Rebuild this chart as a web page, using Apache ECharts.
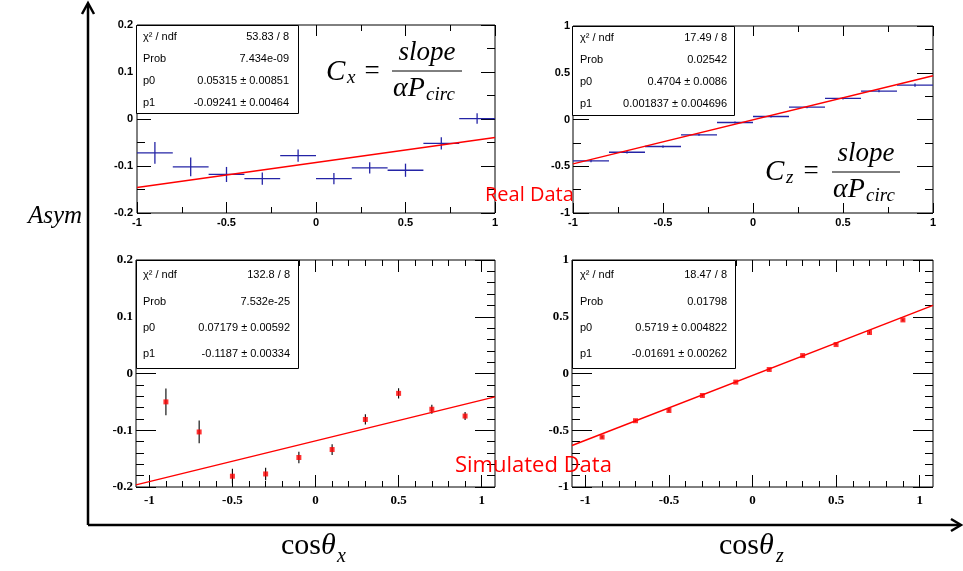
<!DOCTYPE html>
<html><head><meta charset="utf-8">
<script src="https://cdn.jsdelivr.net/npm/echarts@6/dist/echarts.min.js"></script>
<style>html,body{margin:0;padding:0;background:#fff}#c{width:963px;height:571px}</style>
</head><body><div id="c"></div>
<script>
// ---------------- data ----------------
const binCenters = [-0.9, -0.7, -0.5, -0.3, -0.1, 0.1, 0.3, 0.5, 0.7, 0.9];
const binHalfWidth = 0.1;

const realCxAsym = [-0.072, -0.102, -0.118, -0.127, -0.078, -0.127, -0.104, -0.109, -0.052, 0.001];
const realCxErr  = [0.023, 0.020, 0.016, 0.013, 0.013, 0.012, 0.012, 0.014, 0.013, 0.011];
const realCzAsym = [-0.443, -0.350, -0.289, -0.164, -0.032, 0.032, 0.132, 0.225, 0.304, 0.368];
const realCzErr  = [0.014, 0.013, 0.012, 0.011, 0.010, 0.010, 0.011, 0.012, 0.013, 0.018];
const simCxAsym  = [-0.050, -0.103, -0.181, -0.177, -0.148, -0.134, -0.081, -0.035, -0.063, -0.075];
const simCxErr   = [0.0235, 0.020, 0.013, 0.011, 0.010, 0.0094, 0.009, 0.009, 0.008, 0.007];
const simCzAsym  = [-0.560, -0.416, -0.326, -0.194, -0.076, 0.035, 0.158, 0.255, 0.361, 0.472];
const simCzErr   = [0.012, 0.011, 0.010, 0.009, 0.008, 0.008, 0.008, 0.009, 0.010, 0.011];

const realCxFit = [[-1, -0.1456], [1, -0.0393]];
const realCzFit = [[-1, -0.475], [1, 0.468]];
const simCxFit  = [[-1.08, -0.1962], [1.08, -0.0412]];
const simCzFit  = [[-1.08, -0.6346], [1.08, 0.6007]];

const statLabels   = ['\u03c7\u00b2 / ndf', 'Prob', 'p0', 'p1'];
const realCxStats  = ['53.83 / 8', '7.434e-09', '0.05315 \u00b1 0.00851', '-0.09241 \u00b1 0.00464'];
const realCzStats  = ['17.49 / 8', '0.02542', '0.4704 \u00b1 0.0086', '0.001837 \u00b1 0.004696'];
const simCxStats   = ['132.8 / 8', '7.532e-25', '0.07179 \u00b1 0.00592', '-0.1187 \u00b1 0.00334'];
const simCzStats   = ['18.47 / 8', '0.01798', '0.5719 \u00b1 0.004822', '-0.01691 \u00b1 0.00262'];

const xMajorTicks      = [-1, -0.5, 0, 0.5, 1];
const realXMinorTicks  = [-0.75, -0.25, 0.25, 0.75];
const simXMinorTicks   = [-0.9, -0.8, -0.7, -0.6, -0.4, -0.3, -0.2, -0.1, 0.1, 0.2, 0.3, 0.4, 0.6, 0.7, 0.8, 0.9];
const cxYMajorTicks    = [-0.2, -0.1, 0, 0.1, 0.2];
const realCxYMinor     = [-0.15, -0.05, 0.05, 0.15];
const simCxYMinor      = [-0.18, -0.16, -0.14, -0.12, -0.08, -0.06, -0.04, -0.02, 0.02, 0.04, 0.06, 0.08, 0.12, 0.14, 0.16, 0.18];
const czYMajorTicks    = [-1, -0.5, 0, 0.5, 1];
const realCzYMinor     = [-0.75, -0.25, 0.25, 0.75];
const simCzYMinor      = [-0.9, -0.8, -0.7, -0.6, -0.4, -0.3, -0.2, -0.1, 0.1, 0.2, 0.3, 0.4, 0.6, 0.7, 0.8, 0.9];

// ---------------- layout ----------------
const SANS = '"Liberation Sans", Arial, sans-serif';
const SERIF = '"Liberation Serif", "Times New Roman", serif';

const panels = [
  {grid:{left:137, top:25, width:358, height:188}, xr:[-1,1], yr:[-0.2,0.2],
   xMaj:xMajorTicks, xMin:realXMinorTicks, yMaj:cxYMajorTicks, yMin:realCxYMinor,
   labFam:SANS, labSize:11, xMargin:4, yMargin:4, xMajLen:11, xMinLen:6, yMajLen:14, yMinLen:8},
  {grid:{left:573, top:26, width:360, height:187}, xr:[-1,1], yr:[-1,1],
   xMaj:xMajorTicks, xMin:realXMinorTicks, yMaj:czYMajorTicks, yMin:realCzYMinor,
   labFam:SANS, labSize:11, xMargin:4, yMargin:3, xMajLen:10, xMinLen:6, yMajLen:16, yMinLen:8},
  {grid:{left:136, top:260, width:359, height:227}, xr:[-1.08,1.08], yr:[-0.2,0.2],
   xMaj:xMajorTicks, xMin:simXMinorTicks, yMaj:cxYMajorTicks, yMin:simCxYMinor,
   labFam:SERIF, labSize:13, xMargin:7, yMargin:3, xMajLen:12, xMinLen:6, yMajLen:20, yMinLen:8},
  {grid:{left:572, top:260, width:361, height:227}, xr:[-1.08,1.08], yr:[-1,1],
   xMaj:xMajorTicks, xMin:simXMinorTicks, yMaj:czYMajorTicks, yMin:simCzYMinor,
   labFam:SERIF, labSize:13, xMargin:7, yMargin:3, xMajLen:12, xMinLen:6, yMajLen:20, yMinLen:8}
];

const grids = [], xAxes = [], yAxes = [];
panels.forEach((p, i) => {
  const gA = 2 * i, gB = 2 * i + 1;
  grids.push(Object.assign({show:true, borderColor:'#000', borderWidth:1, backgroundColor:'rgba(0,0,0,0)', containLabel:false}, p.grid));
  grids.push(Object.assign({show:false, containLabel:false}, p.grid));
  const lab = {fontFamily:p.labFam, fontWeight:'bold', fontSize:p.labSize, color:'#000'};
  const tick = (len, vals) => ({show:true, inside:true, length:len, customValues:vals, lineStyle:{color:'#000', width:1}});
  const base = (g, r, pos) => ({type:'value', gridIndex:g, min:r[0], max:r[1], position:pos,
    axisLine:{show:false, onZero:false}, splitLine:{show:false}, minorTick:{show:false}});
  xAxes.push(Object.assign(base(gA, p.xr, 'bottom'), {axisTick:tick(p.xMajLen, p.xMaj),
    axisLabel:Object.assign({show:true, customValues:p.xMaj, margin:p.xMargin}, lab)}));
  xAxes.push(Object.assign(base(gA, p.xr, 'top'), {axisTick:tick(p.xMajLen, p.xMaj), axisLabel:{show:false, customValues:p.xMaj}}));
  xAxes.push(Object.assign(base(gB, p.xr, 'bottom'), {axisTick:tick(p.xMinLen, p.xMin), axisLabel:{show:false, customValues:p.xMin}}));
  xAxes.push(Object.assign(base(gB, p.xr, 'top'), {axisTick:tick(p.xMinLen, p.xMin), axisLabel:{show:false, customValues:p.xMin}}));
  yAxes.push(Object.assign(base(gA, p.yr, 'left'), {axisTick:tick(p.yMajLen, p.yMaj),
    axisLabel:Object.assign({show:true, customValues:p.yMaj, margin:p.yMargin}, lab)}));
  yAxes.push(Object.assign(base(gA, p.yr, 'right'), {axisTick:tick(p.yMajLen, p.yMaj), axisLabel:{show:false, customValues:p.yMaj}}));
  yAxes.push(Object.assign(base(gB, p.yr, 'left'), {axisTick:tick(p.yMinLen, p.yMin), axisLabel:{show:false, customValues:p.yMin}}));
  yAxes.push(Object.assign(base(gB, p.yr, 'right'), {axisTick:tick(p.yMinLen, p.yMin), axisLabel:{show:false, customValues:p.yMin}}));
});

function errItem(color, lw) {
  return function (params, api) {
    const x = api.value(0), y = api.value(1), ex = api.value(2), ey = api.value(3);
    const ch = [];
    if (ex > 0) {
      const a = api.coord([x - ex, y]), b = api.coord([x + ex, y]);
      ch.push({type:'line', shape:{x1:a[0], y1:a[1], x2:b[0], y2:b[1]}, style:{stroke:color, lineWidth:lw}});
    }
    const c = api.coord([x, y + ey]), d = api.coord([x, y - ey]);
    ch.push({type:'line', shape:{x1:c[0], y1:c[1], x2:d[0], y2:d[1]}, style:{stroke:color, lineWidth:lw}});
    return {type:'group', children:ch};
  };
}

const BLUE = '#2424a6', RED = '#ff0000';
const series = [];
function addPanel(i, ys, errs, fit, isSim) {
  const ax = {xAxisIndex:4 * i, yAxisIndex:4 * i};
  const data = binCenters.map((x, k) => [x, ys[k], isSim ? 0 : binHalfWidth, errs[k]]);
  series.push(Object.assign({type:'custom', renderItem:errItem(isSim ? '#000' : BLUE, isSim ? 1.1 : 1.3),
    encode:{x:0, y:1}, data:data, silent:true}, ax));
  if (isSim) {
    series.push(Object.assign({type:'scatter', symbol:'rect', symbolSize:5, itemStyle:{color:RED},
      data:binCenters.map((x, k) => [x, ys[k]]), z:4}, ax));
  }
  series.push(Object.assign({type:'line', data:fit, showSymbol:false, symbol:'none',
    lineStyle:{color:RED, width:1.4}, z:3}, ax));
}
addPanel(0, realCxAsym, realCxErr, realCxFit, false);
addPanel(1, realCzAsym, realCzErr, realCzFit, false);
addPanel(2, simCxAsym, simCxErr, simCxFit, true);
addPanel(3, simCzAsym, simCzErr, simCzFit, true);

// ---------------- graphic (stat boxes, formulas, labels) ----------------
const gfx = [];
function txt(x, y, s, font, align, color) {
  gfx.push({type:'text', x:x, y:y, z:200,
    style:{text:s, font:font, fill:color || '#000', align:align || 'left', textAlign:align || 'left',
      verticalAlign:'middle', textVerticalAlign:'middle'}});
}
function statBox(x0, y0, x1, y1, rowsY, labX, valX, vals) {
  gfx.push({type:'rect', z:150, shape:{x:x0 + 0.5, y:y0 + 0.5, width:x1 - x0, height:y1 - y0},
    style:{fill:'#fff', stroke:'#000', lineWidth:1}});
  statLabels.forEach((l, k) => {
    txt(labX, rowsY[k], l, '11px ' + SANS, 'left');
    txt(valX, rowsY[k], vals[k], '11px ' + SANS, 'right');
  });
}
statBox(136, 25, 298, 113, [37, 59, 81, 103], 143, 289, realCxStats);
statBox(572, 26, 734, 115, [38, 60, 82, 104], 580, 727, realCzStats);
statBox(136, 260, 298, 368, [275, 302, 328, 354], 143, 290, simCxStats);
statBox(572, 260, 735, 368, [275, 302, 328, 354], 580, 727, simCzStats);

function formula(cx, cy, sub, fx0, fx1, fy) {
  txt(cx, cy, 'C', 'italic 29px ' + SERIF, 'left');
  txt(cx + 21, cy + 6, sub, 'italic 19px ' + SERIF, 'left');
  txt(cx + 46, cy, '=', '27px ' + SERIF, 'center');
  txt((fx0 + fx1) / 2, fy - 18, 'slope', 'italic 27px ' + SERIF, 'center');
  gfx.push({type:'line', z:200, shape:{x1:fx0, y1:fy, x2:fx1, y2:fy}, style:{stroke:'#000', lineWidth:1}});
  txt(fx0 + 1, fy + 18, '\u03b1P', 'italic 28px ' + SERIF, 'left');
  txt(fx0 + 34, fy + 24, 'circ', 'italic 19px ' + SERIF, 'left');
}
formula(326, 72, 'x', 392, 462, 71);
formula(765, 172, 'z', 832, 900, 172);

txt(485, 195, 'Real Data', '20px "Open Sans", sans-serif', 'left', RED);
txt(455, 466, 'Simulated Data', '22px "Open Sans", sans-serif', 'left', RED);

txt(55, 216, 'Asym', 'italic 25px ' + SERIF, 'center');
txt(281, 546, 'cos', '30px ' + SERIF, 'left');
txt(321, 546, '\u03b8', 'italic 30px ' + SERIF, 'left');
txt(337, 557, 'x', 'italic 20px ' + SERIF, 'left');
txt(719, 546, 'cos', '30px ' + SERIF, 'left');
txt(759, 546, '\u03b8', 'italic 30px ' + SERIF, 'left');
txt(776, 557, 'z', 'italic 20px ' + SERIF, 'left');

// big axis arrows
gfx.push({type:'polyline', z:100, shape:{points:[[88, 525], [88, 4]]}, style:{stroke:'#000', lineWidth:2.5, fill:null}});
gfx.push({type:'polyline', z:100, shape:{points:[[82, 14], [88, 3], [94, 14]]}, style:{stroke:'#000', lineWidth:2.5, fill:null}});
gfx.push({type:'polyline', z:100, shape:{points:[[88, 525], [960, 525]]}, style:{stroke:'#000', lineWidth:2.5, fill:null}});
gfx.push({type:'polyline', z:100, shape:{points:[[951, 519], [961, 525], [951, 531]]}, style:{stroke:'#000', lineWidth:2.5, fill:null}});

const chart = echarts.init(document.getElementById('c'), null, {renderer:'canvas'});
chart.setOption({
  animation:false,
  backgroundColor:'#fff',
  grid:grids, xAxis:xAxes, yAxis:yAxes, series:series,
  graphic:{elements:gfx}
});
</script></body></html>
